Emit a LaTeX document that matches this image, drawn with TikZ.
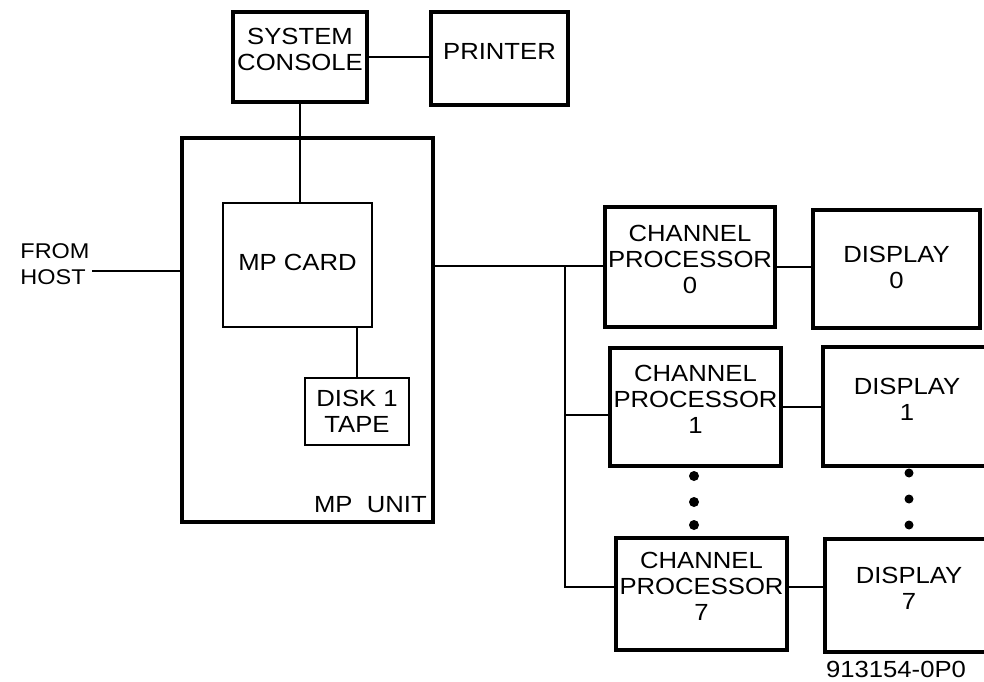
\documentclass[tikz,border=0pt]{standalone}
\usepackage{fontspec}
\setmainfont{Liberation Sans}[FakeStretch=1.1]
\usepackage{tikz}
\usetikzlibrary{calc}

\begin{document}
\begin{tikzpicture}[x=0.75pt, y=-0.75pt,
    font=\fontsize{17.5}{19.5}\selectfont,
    blk/.style={draw, line width=3.6pt, align=center, inner sep=0pt, text depth=11pt},
    inblk/.style={draw, line width=2pt, align=center, inner sep=0pt},
    link/.style={line width=2.1pt}]
  \useasboundingbox (0,0) rectangle (984,681);

  % Konsole und Drucker
  \node[blk, minimum width=100.5pt, minimum height=67.5pt] (console) at (300,57) {SYSTEM\\CONSOLE};
  \node[blk, minimum width=102.75pt, minimum height=69.75pt] (printer) at (499.5,58.5) {PRINTER};

  % MP-Einheit
  \node[blk, minimum width=188.25pt, minimum height=288pt] (mpunit) at (307.5,330) {};
  \node[inblk, minimum width=111.75pt, minimum height=93pt, text depth=4pt] (mpcard) at (297.5,265) {MP CARD};
  \node[inblk, minimum width=78pt, minimum height=50.25pt] (disk) at (357,411.5) {DISK 1\\TAPE};
  \node[anchor=base east, inner sep=0pt] (unitlbl) at (427,512) {MP\ \ UNIT};
  \node[align=left, inner sep=0pt, font=\fontsize{16}{19}\selectfont] (host) at (55,264) {FROM\\HOST};

  % Kanalprozessoren und Anzeigen
  \node[blk, minimum width=127.5pt, minimum height=90pt] (cp0) at (690,267) {CHANNEL\\PROCESSOR\\0};
  \node[blk, minimum width=125.25pt, minimum height=88.5pt, text depth=3pt] (d0) at (896.5,269) {DISPLAY\\0};
  \node[blk, minimum width=128.25pt, minimum height=88.5pt] (cp1) at (695.5,407) {CHANNEL\\PROCESSOR\\1};
  \node[blk, minimum width=126pt, minimum height=89.25pt] (d1) at (907,406.5) {DISPLAY\\1};
  \node[blk, minimum width=128.25pt, minimum height=84pt] (cp7) at (701.5,594) {CHANNEL\\PROCESSOR\\7};
  \node[blk, minimum width=126pt, minimum height=84.75pt] (d7) at (909,595.5) {DISPLAY\\7};

  \node[anchor=base, inner sep=0pt] (figno) at (896,677) {913154-0P0};

  % Verbindungen
  \coordinate (bus0) at (565,266);
  \coordinate (bus1) at (565,415);
  \coordinate (bus7) at (565,587);
  \coordinate (hostend) at (92,271);

  \draw[link] (console.east) -- (console.east -| printer.west);
  \draw[link] (console.south) -- (console.south |- mpcard.north);
  \draw[link] (disk.north) -- (disk.north |- mpcard.south);
  \draw[link] (hostend) -- (hostend -| mpunit.west);
  \draw[link] (bus0 -| mpunit.east) -- (bus0 -| cp0.west);
  \draw[link] (bus0) -- (bus7) -- (bus7 -| cp7.west);
  \draw[link] (bus1) -- (bus1 -| cp1.west);
  \draw[link] (cp0.east) -- (cp0.east -| d0.west);
  \draw[link] (cp1.east) -- (cp1.east -| d1.west);
  \draw[link] (bus7 -| cp7.east) -- (bus7 -| d7.west);

  % Punkte
  \foreach \yy in {476,502,525}
    \fill (694,\yy) circle (5);
  \foreach \yy in {473,499,525}
    \fill (909,\yy) circle (4.5);
\end{tikzpicture}
\end{document}
